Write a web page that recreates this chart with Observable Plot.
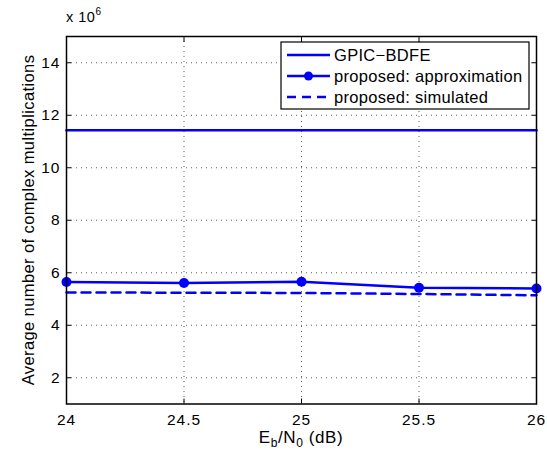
<!DOCTYPE html>
<html><head><meta charset="utf-8">
<script src="https://cdn.jsdelivr.net/npm/d3@7"></script>
<script src="https://cdn.jsdelivr.net/npm/@observablehq/plot@0.6"></script>
<style>
body{margin:0;background:#fff;}
#chart svg{font-family:"Liberation Sans",Arial,sans-serif;}
#chart svg text{font-family:"Liberation Sans",Arial,sans-serif;font-size:15.5px;letter-spacing:1px;fill:#000;}
</style>
</head><body><div id="chart"></div>
<script>
const ebn0 = [24, 24.5, 25, 25.5, 26];
const gpic = [11.43, 11.43, 11.43, 11.43, 11.43];
const approx = [5.65, 5.61, 5.66, 5.43, 5.40];
const simulated = [5.25, 5.24, 5.23, 5.19, 5.14];
const xTicks = [24, 24.5, 25, 25.5, 26];
const yTicks = [2, 4, 6, 8, 10, 12, 14];
const seriesNames = ["GPIC\u2212BDFE", "proposed: approximation", "proposed: simulated"];

const rows = (ys) => ebn0.map((x, i) => ({x, y: ys[i]}));
const blue = "#0000ff";

const plot = Plot.plot({
  width: 547, height: 450,
  marginLeft: 66, marginRight: 11, marginTop: 36, marginBottom: 46.5,
  style: {background: "#fff", fontSize: "15.5px"},
  x: {domain: [24, 26], ticks: xTicks},
  y: {domain: [1, 15], ticks: yTicks},
  marks: [
    Plot.gridX(xTicks, {stroke: "#000", strokeOpacity: 0.8, strokeDasharray: "1,4", strokeWidth: 0.8}),
    Plot.gridY(yTicks, {stroke: "#000", strokeOpacity: 0.8, strokeDasharray: "1,4", strokeWidth: 0.8}),
    Plot.axisX(xTicks, {anchor: "bottom", tickSize: -5, tickPadding: 15, label: null, fontSize: 15.5, tickFormat: d => String(d)}),
    Plot.axisX(xTicks, {anchor: "top", tickSize: -5, text: null, label: null}),
    Plot.axisY(yTicks, {anchor: "left", tickSize: -5, tickPadding: 11, label: null, fontSize: 15.5}),
    Plot.axisY(yTicks, {anchor: "right", tickSize: -5, text: null, label: null}),
    Plot.line(rows(gpic), {x: "x", y: "y", stroke: blue, strokeWidth: 2.5}),
    Plot.line(rows(approx), {x: "x", y: "y", stroke: blue, strokeWidth: 2.5}),
    Plot.dot(rows(approx), {x: "x", y: "y", fill: blue, r: 5}),
    Plot.line(rows(simulated), {x: "x", y: "y", stroke: blue, strokeWidth: 2.5, strokeDasharray: "9,6"}),
    Plot.frame({stroke: "#000", strokeWidth: 1.5})
  ]
});
document.getElementById("chart").appendChild(plot);

const svg = d3.select(plot);
// exponent label
const ex = svg.append("text").attr("x", 66).attr("y", 22).attr("text-anchor", "start").attr("style", "font-size:14.5px;letter-spacing:0.5px");
ex.append("tspan").text("x 10");
ex.append("tspan").attr("font-size", 10).attr("dy", -7).text("6");
// y label
svg.append("text").attr("transform", "translate(34,220) rotate(-90)").attr("text-anchor", "middle")
  .attr("style", "font-size:16.5px;letter-spacing:0.4px").text("Average number of complex multiplications");
// x label
const xl = svg.append("text").attr("x", 301).attr("y", 443).attr("text-anchor", "middle").attr("style", "font-size:17px;letter-spacing:0.6px");
xl.append("tspan").text("E");
xl.append("tspan").attr("font-size", 12).attr("dy", 4).text("b");
xl.append("tspan").attr("dy", -4).text("/N");
xl.append("tspan").attr("font-size", 12).attr("dy", 4).text("0");
xl.append("tspan").attr("dy", -4).text(" (dB)");

// legend
const lg = svg.append("g");
lg.append("rect").attr("x", 281).attr("y", 42).attr("width", 248).attr("height", 67)
  .attr("fill", "#fff").attr("stroke", "#000").attr("stroke-width", 1.2);
seriesNames.forEach((name, i) => {
  const y = 55 + i * 21;
  const l = lg.append("line").attr("x1", 287).attr("x2", 330).attr("y1", y).attr("y2", y)
    .attr("stroke", blue).attr("stroke-width", 2.5);
  if (i === 2) l.attr("stroke-dasharray", "9,6");
  if (i === 1) lg.append("circle").attr("cx", 308.5).attr("cy", y).attr("r", 4.5).attr("fill", blue);
  lg.append("text").attr("x", 334).attr("y", y + 6).attr("text-anchor", "start")
    .attr("style", "font-size:16.5px;letter-spacing:0.3px").text(name);
});
</script></body></html>
